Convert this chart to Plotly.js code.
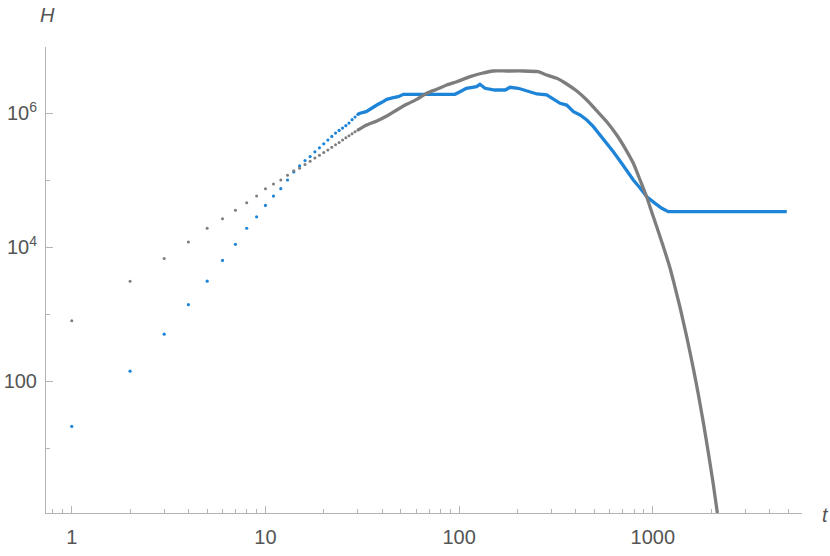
<!DOCTYPE html>
<html>
<head>
<meta charset="utf-8">
<script src="https://cdn.plot.ly/plotly-3.0.1.min.js"></script>
<style>
  html, body { margin: 0; padding: 0; background: #fff; }
  #plot { width: 830px; height: 556px; }
</style>
</head>
<body>
<div id="plot"></div>
<script>
/* global Plotly */
// early steps, one point per t
const earlyT = [1, 2, 3, 4, 5, 6, 7, 8, 9, 10, 11, 12, 13, 14, 15, 16, 17, 18, 19, 20,
  21, 22, 23, 24, 25, 26, 27, 28, 29, 30];
const grayEarlyH = [794, 3090, 6760, 11900, 19050, 26300, 35500, 45700, 57500, 74100,
  87100, 100000, 117500, 138000, 149600, 170000, 190500, 213800, 234400, 257000,
  280500, 309000, 335000, 363000, 394000, 427000, 457000, 490000, 525000, 556000];
const blueEarlyH = [21, 140, 500, 1380, 3090, 6310, 10960, 19050, 28200, 41700,
  57500, 74100, 100000, 131800, 162200, 195000, 223900, 263000, 302000, 346700,
  395400, 447000, 501000, 550000, 596000, 646000, 708000, 794000, 871000, 955000];

// later steps (dense)
const grayT = [30, 33.3, 37.6, 42.3, 47.6, 53.6, 60.4, 68, 76.6, 86.3, 97.2,
  114, 131, 150, 176, 215, 256, 283, 319, 359, 405, 456, 513, 578, 651, 719, 793, 859, 930,
  967, 1047, 1133, 1227, 1276, 1382, 1496, 1619, 1718, 1823, 1934, 2053, 2153];
const grayH = [556000, 662200, 760300, 901600, 1109000, 1349000,
  1600000, 1968000, 2259000, 2618000, 2931000, 3483000, 3917000, 4236000, 4236000, 4236000,
  4130000, 3690000, 3296000, 2710000, 2128000, 1563000, 1081000, 741300, 469900, 297200,
  177400, 100000, 55720, 39540, 20090, 10090, 4831, 3141, 1250, 454, 153, 62.5, 23.9, 8.51,
  2.83, 1.07];

const blueT = [30, 30.8, 33.1, 35.4, 37.6, 39.9, 42.3, 45.7, 48.5, 51.5,
  95.2, 101, 109, 123, 128, 136, 153, 173, 183, 202, 223, 252, 283, 307, 332, 359, 389, 421,
  456, 493, 534, 578, 625, 677, 733, 793, 859, 930, 1027, 1112, 1202, 4913];
const blueH = [955000, 990800, 1045000, 1199000, 1315000,
  1445000, 1600000, 1690000, 1750000, 1901000, 1901000, 2080000, 2339000, 2472000, 2679000,
  2339000, 2203000, 2203000, 2421000, 2339000, 2153000, 1923000, 1858000, 1600000, 1396000,
  1315000, 1045000, 933300, 787000, 625200, 469900, 353200, 264200, 192300, 136100, 100000,
  76030, 56360, 44870, 37840, 33650, 33650];

const xTickVals = [1, 10, 100, 1000];
const xTickText = ['1', '10', '100', '1000'];
const yTickVals = [100, 10000, 1000000];
const yTickText = ['100', '10<sup>4</sup>', '10<sup>6</sup>'];
const xMinorVals = [0.8, 0.9, 2, 3, 4, 5, 6, 7, 8, 9, 20, 30, 40, 50, 60, 70, 80, 90,
  200, 300, 400, 500, 600, 700, 800, 900, 2000, 3000, 4000, 5000];
const yMinorVals = [10, 1000, 100000];

const BLUE = 'rgb(30,132,216)';
const GRAY = 'rgb(125,125,125)';
const TEXT = 'rgb(85,85,85)';
const AXIS = 'rgb(180,180,180)';
const FONT = 'Liberation Sans, Arial, sans-serif';

const traces = [
  {x: blueT, y: blueH, mode: 'lines', line: {color: BLUE, width: 3.3}, hoverinfo: 'skip'},
  {x: earlyT, y: blueEarlyH, mode: 'markers', marker: {color: BLUE, size: 3.2}, hoverinfo: 'skip'},
  {x: grayT, y: grayH, mode: 'lines', line: {color: GRAY, width: 3.3, shape: 'spline', smoothing: 0.5},
    hoverinfo: 'skip'},
  {x: earlyT, y: grayEarlyH, mode: 'markers', marker: {color: GRAY, size: 3}, hoverinfo: 'skip'}
];

function axisBase() {
  return {
    type: 'log',
    showgrid: false,
    zeroline: false,
    showline: true,
    linecolor: AXIS,
    linewidth: 1,
    ticks: 'inside',
    ticklen: 7,
    tickwidth: 1,
    tickcolor: AXIS,
    tickmode: 'array',
    tickfont: {family: FONT, size: 20, color: TEXT}
  };
}

const xaxis = Object.assign(axisBase(), {
  range: [-0.133, 3.770],
  tickvals: xTickVals,
  ticktext: xTickText,
  ticklabelstandoff: 6,
  minor: {tickvals: xMinorVals, ticks: 'inside', ticklen: 4, tickcolor: AXIS, tickwidth: 1}
});

const yaxis = Object.assign(axisBase(), {
  range: [0.03, 6.985],
  tickvals: yTickVals,
  ticktext: yTickText,
  ticklabelstandoff: 4,
  minor: {tickvals: yMinorVals, ticks: 'inside', ticklen: 4, tickcolor: AXIS, tickwidth: 1}
});

const layout = {
  width: 830,
  height: 556,
  margin: {l: 46, r: 28, t: 47, b: 43},
  paper_bgcolor: '#fff',
  plot_bgcolor: '#fff',
  showlegend: false,
  xaxis: xaxis,
  yaxis: yaxis,
  annotations: [
    {text: '<i>H</i>', xref: 'paper', yref: 'paper', x: 0, y: 1, xanchor: 'center', yanchor: 'middle',
      xshift: 1, yshift: 32, showarrow: false, font: {family: FONT, size: 20, color: TEXT}},
    {text: '<i>t</i>', xref: 'paper', yref: 'paper', x: 1, y: 0, xanchor: 'center', yanchor: 'middle',
      xshift: 23, yshift: -2, showarrow: false, font: {family: FONT, size: 20, color: TEXT}}
  ]
};

Plotly.newPlot('plot', traces, layout, {staticPlot: true, displayModeBar: false});
</script>
</body>
</html>
